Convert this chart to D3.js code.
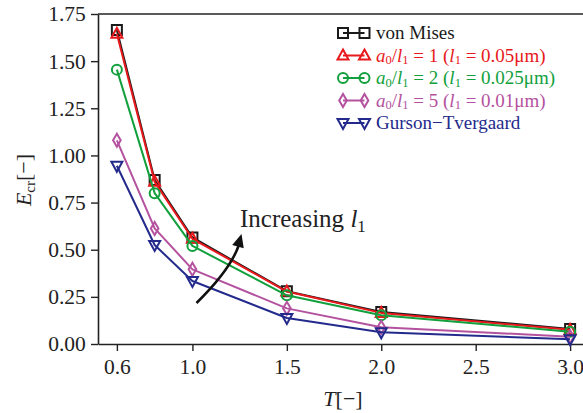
<!DOCTYPE html>
<html>
<head>
<meta charset="utf-8">
<script src="https://cdn.jsdelivr.net/npm/d3@7"></script>
<style>
  body { margin: 0; background: #fff; }
</style>
</head>
<body>
<div id="chart"></div>
<script>
// chart data
const T = [0.6, 0.8, 1.0, 1.5, 2.0, 3.0]
const vonMises   = [1.665, 0.870, 0.565, 0.280, 0.170, 0.080]
const ratio1     = [1.645, 0.860, 0.558, 0.278, 0.165, 0.075]
const ratio2     = [1.455, 0.800, 0.520, 0.258, 0.152, 0.065]
const ratio5     = [1.080, 0.613, 0.396, 0.189, 0.089, 0.039]
const gurson     = [0.945, 0.525, 0.334, 0.138, 0.062, 0.025]
const xTicks = [0.6, 1.0, 1.5, 2.0, 2.5, 3.0]
const yTicks = [0, 0.25, 0.5, 0.75, 1.0, 1.25, 1.5, 1.75]

const width = 583
const height = 413
const serif = "Liberation Serif"

const series = [
  {values: vonMises, color: "#1a1a1a", marker: "square",
   label: [{t: "von Mises"}]},
  {values: ratio1, color: "#e8191c", marker: "triUp",
   label: [{t: "a", i: 1}, {t: "0", s: 1}, {t: "/"}, {t: "l", i: 1}, {t: "1", s: 1},
           {t: " = 1 ("}, {t: "l", i: 1}, {t: "1", s: 1}, {t: " = 0.05μm)"}]},
  {values: ratio2, color: "#12a03c", marker: "circle",
   label: [{t: "a", i: 1}, {t: "0", s: 1}, {t: "/"}, {t: "l", i: 1}, {t: "1", s: 1},
           {t: " = 2 ("}, {t: "l", i: 1}, {t: "1", s: 1}, {t: " = 0.025μm)"}]},
  {values: ratio5, color: "#b4529f", marker: "diamond",
   label: [{t: "a", i: 1}, {t: "0", s: 1}, {t: "/"}, {t: "l", i: 1}, {t: "1", s: 1},
           {t: " = 5 ("}, {t: "l", i: 1}, {t: "1", s: 1}, {t: " = 0.01μm)"}]},
  {values: gurson, color: "#232a8c", marker: "triDown",
   label: [{t: "Gurson−Tvergaard"}]}
]

const x = d3.scaleLinear().domain([0.5, 3.1]).range([98, 589])
const y = d3.scaleLinear().domain([0, 1.75]).range([344, 14])

var svg = d3.select("#chart").append("svg")
            .attr("width", width)
            .attr("height", height)
            .attr("font-family", serif)

// marker shapes, drawn as open paths
function markerPath(type) {
  if (type == "square") return "M-5,-5H5V5H-5Z"
  if (type == "circle") return "M5,0A5,5 0 1,1 -5,0A5,5 0 1,1 5,0Z"
  if (type == "triUp") return "M0,-6L5.5,4L-5.5,4Z"
  if (type == "triDown") return "M0,6L5.5,-4L-5.5,-4Z"
  if (type == "diamond") return "M0,-6.5L3.8,0L0,6.5L-3.8,0Z"
}

// axes
var xAxis = d3.axisBottom(x).tickValues(xTicks).tickFormat(d3.format(".1f"))
              .tickSize(7).tickSizeOuter(0)
var yAxis = d3.axisLeft(y).tickValues(yTicks).tickFormat(d3.format(".2f"))
              .tickSize(7).tickSizeOuter(0)

var gx = svg.append("g").attr("transform", "translate(0,344)").call(xAxis)
var gy = svg.append("g").attr("transform", "translate(98,0)").call(yAxis)

;[gx, gy].forEach(g => {
  g.attr("font-family", serif).attr("font-size", 21.5)
  g.select(".domain").attr("stroke", "#222").attr("stroke-width", 1.6)
  g.selectAll(".tick line").attr("stroke", "#222").attr("stroke-width", 1.4)
  g.selectAll(".tick text").attr("fill", "#222")
})
gx.selectAll(".tick text").attr("dy", "0.95em")
gy.selectAll(".tick text").attr("dx", "-0.1em")

// top spine
svg.append("line")
   .attr("x1", 98).attr("x2", 589).attr("y1", 14).attr("y2", 14)
   .attr("stroke", "#222").attr("stroke-width", 1.6)

// axis labels
var xl = svg.append("text").attr("x", 343).attr("y", 406)
            .attr("text-anchor", "middle").attr("font-size", 22).attr("fill", "#222")
xl.append("tspan").attr("font-style", "italic").text("T")
xl.append("tspan").text("[−]")

var yl = svg.append("text")
            .attr("transform", "translate(31,180) rotate(-90)")
            .attr("text-anchor", "middle").attr("font-size", 22).attr("fill", "#222")
yl.append("tspan").attr("font-style", "italic").text("E")
yl.append("tspan").attr("dy", 4).attr("font-size", 15).text("cr")
yl.append("tspan").attr("dy", -4).text("[−]")

// lines and markers
var line = d3.line().x((d, i) => x(T[i])).y(d => y(d))

series.forEach(s => {
  svg.append("path")
     .datum(s.values)
     .attr("d", line)
     .attr("fill", "none")
     .attr("stroke", s.color)
     .attr("stroke-width", 2)
     .attr("stroke-linejoin", "round")

  svg.selectAll(null)
     .data(s.values).enter()
     .append("path")
       .attr("transform", (d, i) => "translate(" + x(T[i]) + "," + y(d) + ")")
       .attr("d", markerPath(s.marker))
       .attr("fill", "none")
       .attr("stroke", s.color)
       .attr("stroke-width", 2)
})

// legend
var legend = svg.append("g")
series.forEach((s, k) => {
  let ly = 33 + k * 22.5
  legend.append("line")
        .attr("x1", 343).attr("x2", 364.5).attr("y1", ly).attr("y2", ly)
        .attr("stroke", s.color).attr("stroke-width", 2)
  ;[343, 364.5].forEach(mx => {
    legend.append("path")
          .attr("transform", "translate(" + mx + "," + ly + ")")
          .attr("d", markerPath(s.marker))
          .attr("fill", "none").attr("stroke", s.color).attr("stroke-width", 2)
  })
  let txt = legend.append("text")
                  .attr("x", 376).attr("y", ly + 6)
                  .attr("fill", s.color).attr("font-size", 19)
  let shifted = false
  s.label.forEach(p => {
    let ts = txt.append("tspan").text(p.t)
    if (p.i) ts.attr("font-style", "italic")
    if (p.s) {
      ts.attr("dy", 2.5).attr("font-size", 12.5)
      shifted = true
    } else if (shifted) {
      ts.attr("dy", -2.5)
      shifted = false
    }
  })
})

// annotation
var ann = svg.append("text").attr("x", 240).attr("y", 227)
             .attr("font-size", 25).attr("fill", "#222")
ann.append("tspan").text("Increasing ")
ann.append("tspan").attr("font-style", "italic").text("l")
ann.append("tspan").attr("dy", 5).attr("font-size", 17).text("1")

// curved arrow
var arrowStart = [196.5, 303]
var arrowCtrl = [230, 270]
var arrowTip = [241.5, 234]
svg.append("path")
   .attr("d", "M" + arrowStart + "Q" + arrowCtrl + " " + [238.5, 246])
   .attr("fill", "none").attr("stroke", "#111").attr("stroke-width", 2.6)

var ang = Math.atan2(arrowTip[1] - 250, arrowTip[0] - 237)
var hl = 13, hw = 6
var bx = arrowTip[0] - hl * Math.cos(ang), by = arrowTip[1] - hl * Math.sin(ang)
svg.append("path")
   .attr("d", "M" + arrowTip +
              "L" + [bx + hw * Math.sin(ang), by - hw * Math.cos(ang)] +
              "L" + [bx - hw * Math.sin(ang), by + hw * Math.cos(ang)] + "Z")
   .attr("fill", "#111")
</script>
</body>
</html>
